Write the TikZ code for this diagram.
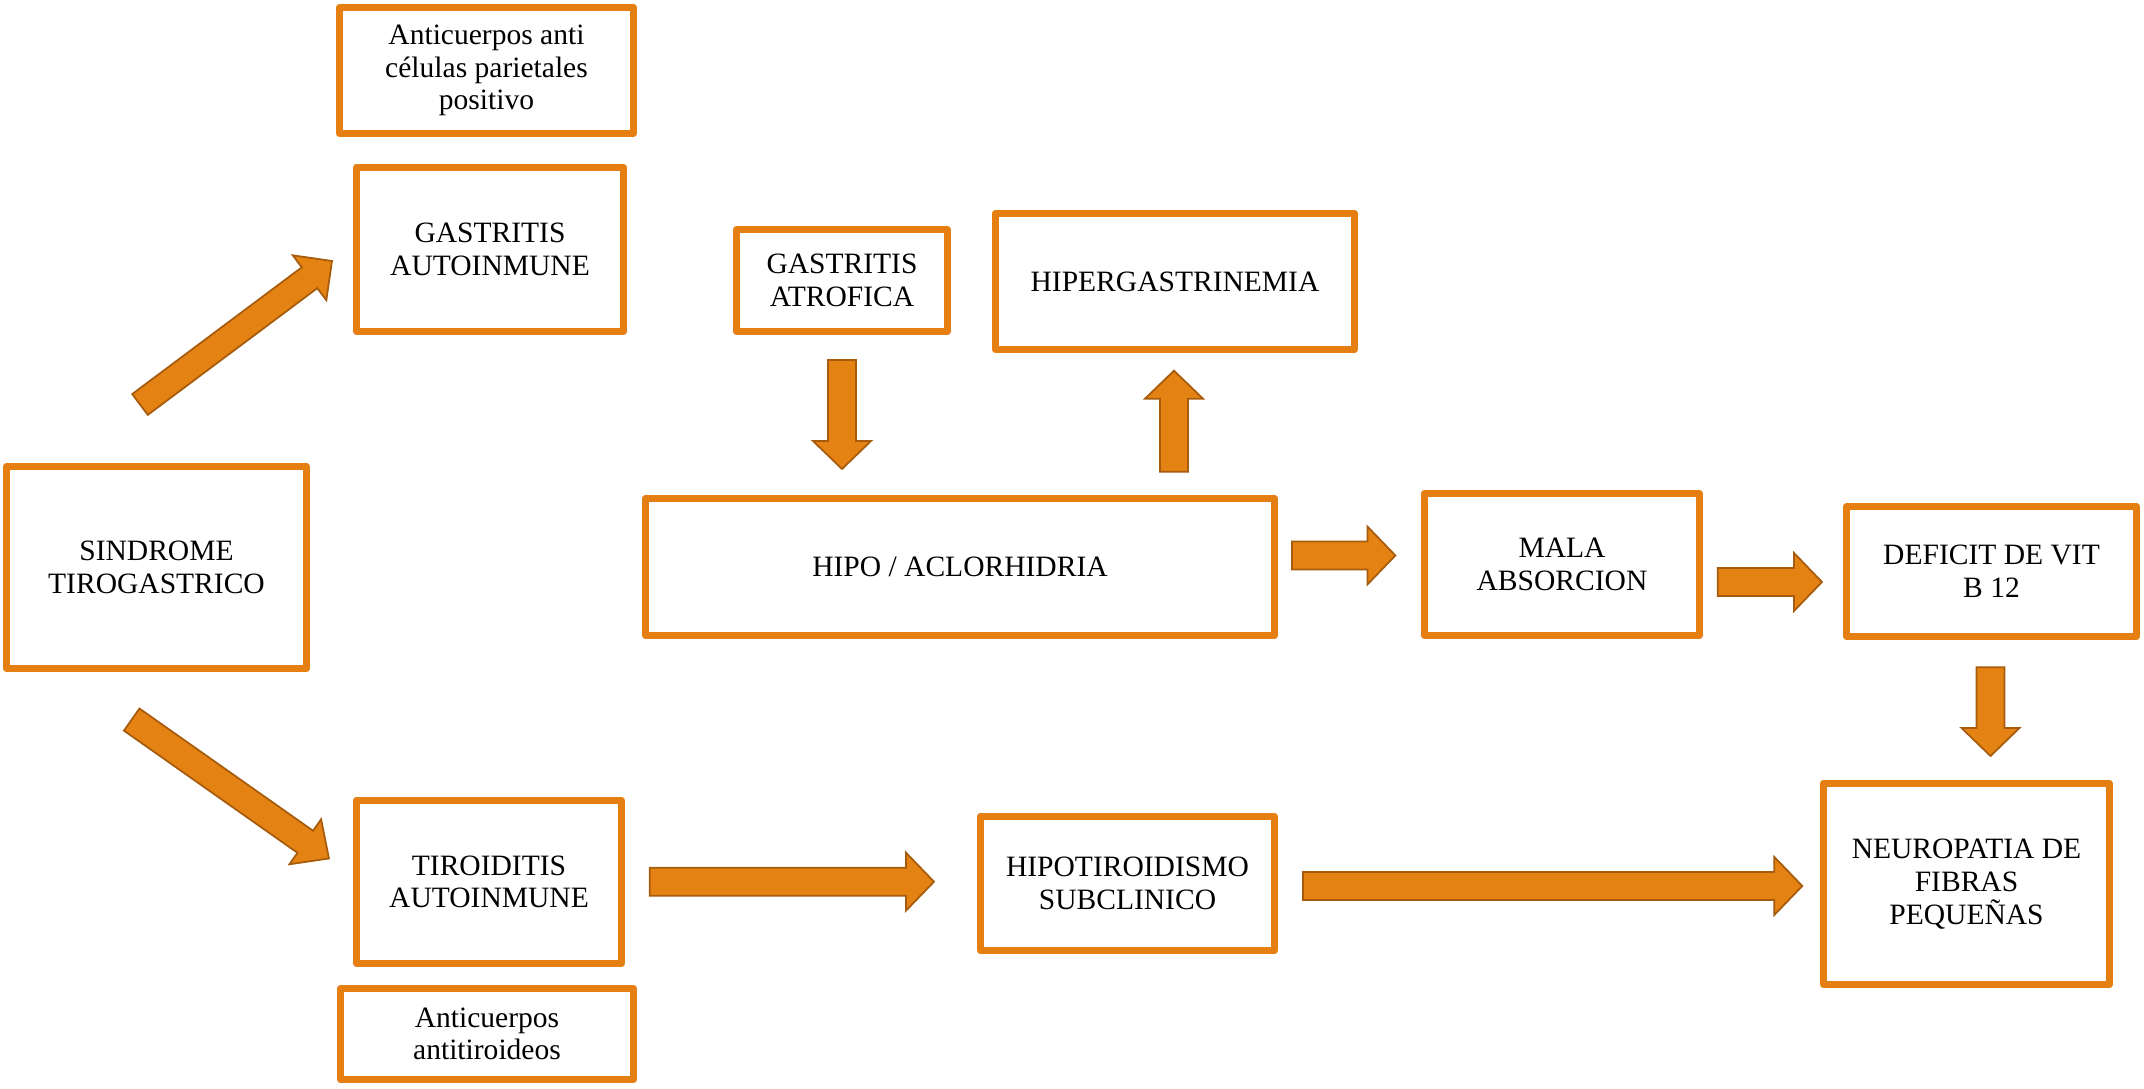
\documentclass[tikz,border=0pt]{standalone}
\usepackage{fontspec}
\setmainfont{Liberation Serif}
\usetikzlibrary{calc}

\definecolor{boxorange}{RGB}{229,127,17}
\definecolor{arrowfill}{RGB}{228,131,19}
\definecolor{arrowedge}{RGB}{166,92,12}

% block arrow: tail, tip, half shaft, half head, head length
\newcommand{\blockarrow}[5]{%
  \filldraw[blockarr] ($(#1)!#3!90:(#2)$)
    -- ($($(#2)!#5!(#1)$)!#3!90:(#2)$)
    -- ($($(#2)!#5!(#1)$)!#4!90:(#2)$)
    -- (#2)
    -- ($($(#2)!#5!(#1)$)!#4!-90:(#2)$)
    -- ($($(#2)!#5!(#1)$)!#3!-90:(#2)$)
    -- ($(#1)!#3!-90:(#2)$) -- cycle;}

\begin{document}
\begin{tikzpicture}[x=0.01cm,y=-0.01cm,
    box/.style={draw=boxorange,line width=0.07cm,fill=white,align=center,
      inner sep=0pt,line join=round,font=\fontsize{8.4}{9.3}\selectfont},
    blockarr/.style={fill=arrowfill,draw=arrowedge,line width=0.5pt}]
    \fill[white] (0,0) rectangle (2144,1089);
    \useasboundingbox (0,0) rectangle (2144,1089);

    \node[box,minimum width=2.94cm,minimum height=1.26cm] (antipar) at (486.5,70.5)
      {Anticuerpos anti\\células parietales\\positivo};
    \node[box,minimum width=2.67cm,minimum height=1.64cm] (gastauto) at (490,249.5)
      {GASTRITIS\\AUTOINMUNE};
    \node[box,minimum width=3.00cm,minimum height=2.02cm] (sindrome) at (156.5,567.5)
      {SINDROME\\TIROGASTRICO};
    \node[box,minimum width=2.11cm,minimum height=1.02cm] (gastatro) at (842,280.5)
      {GASTRITIS\\ATROFICA};
    \node[box,minimum width=3.59cm,minimum height=1.36cm] (hiperg) at (1175,281.5)
      {HIPERGASTRINEMIA};
    \node[box,minimum width=6.29cm,minimum height=1.37cm] (hipo) at (960,567)
      {HIPO / ACLORHIDRIA};
    \node[box,minimum width=2.75cm,minimum height=1.42cm] (mala) at (1562,564.5)
      {MALA\\ABSORCION};
    \node[box,minimum width=2.90cm,minimum height=1.30cm] (deficit) at (1991.5,571.5)
      {DEFICIT DE VIT\\B 12};
    \node[box,minimum width=2.86cm,minimum height=2.01cm] (neuro) at (1966.5,884)
      {NEUROPATIA DE\\FIBRAS\\PEQUEÑAS};
    \node[box,minimum width=2.65cm,minimum height=1.63cm] (tiro) at (489,882)
      {TIROIDITIS\\AUTOINMUNE};
    \node[box,minimum width=2.93cm,minimum height=0.91cm] (antitiro) at (487,1034)
      {Anticuerpos\\antitiroideos};
    \node[box,minimum width=2.94cm,minimum height=1.34cm] (hipotiro) at (1127.5,883.5)
      {HIPOTIROIDISMO\\SUBCLINICO};

    % arrow ends
    \coordinate (sg1) at (140,404.5);   \coordinate (sg2) at (332,261);
    \coordinate (st1) at (131.7,719.6); \coordinate (st2) at (329,858.5);
    \coordinate (ah1) at (842,360);     \coordinate (ah2) at (842,469);
    \coordinate (hh1) at (1174,471.7);  \coordinate (hh2) at (1174,370.7);
    \coordinate (hm1) at (1292,555.5);  \coordinate (hm2) at (1395.4,555.5);
    \coordinate (md1) at (1717.7,582);  \coordinate (md2) at (1822,582);
    \coordinate (dn1) at (1990.5,667.3);\coordinate (dn2) at (1990.5,756);
    \coordinate (th1) at (649.8,881.7); \coordinate (th2) at (934,881.7);
    \coordinate (hn1) at (1303,886);    \coordinate (hn2) at (1802.3,886);

    \blockarrow{sg1}{sg2}{0.13cm}{0.28cm}{0.28cm}
    \blockarrow{st1}{st2}{0.135cm}{0.275cm}{0.29cm}
    \foreach \a in {ah,hh,hm,md,dn,th,hn}
    {
      \blockarrow{\a1}{\a2}{0.14cm}{0.29cm}{0.28cm}
    }
  \end{tikzpicture}
\end{document}
